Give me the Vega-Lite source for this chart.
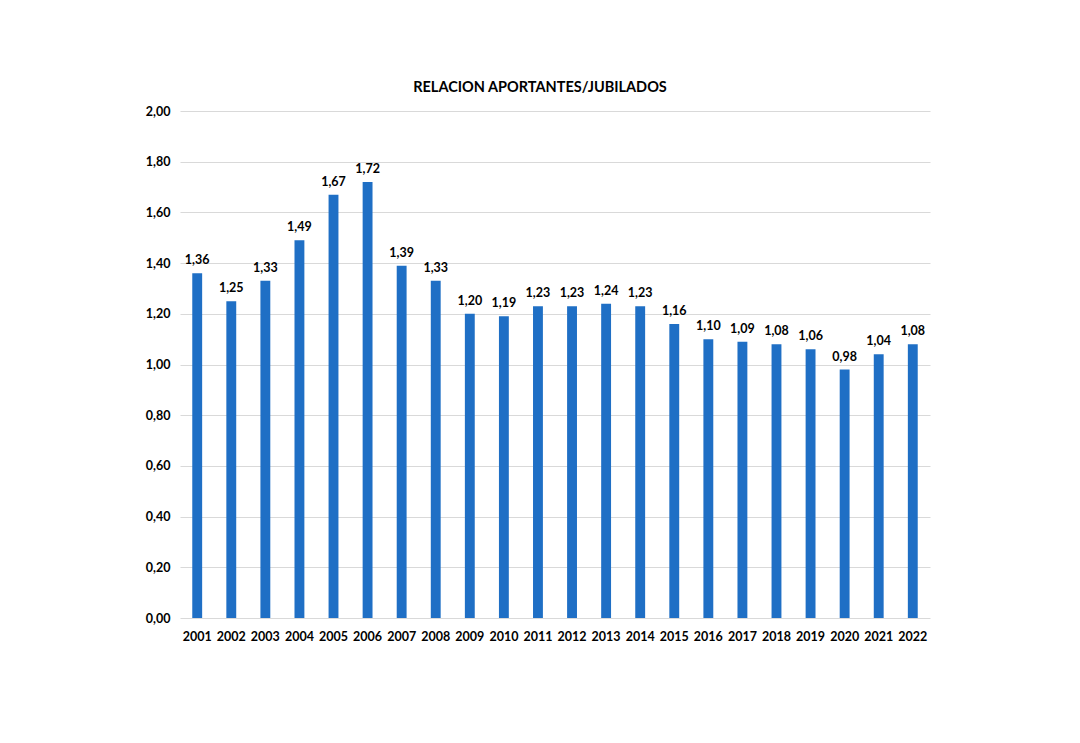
{
  "$schema": "https://vega.github.io/schema/vega-lite/v6.json",
  "autosize": {"type": "none"},
  "width": 750,
  "height": 507,
  "padding": {"left": 180, "top": 111, "right": 150, "bottom": 125},
  "background": "white",
  "config": {
    "locale": {"number": {"decimal": ",", "thousands": ".", "grouping": [3], "currency": ["$", ""]}},
    "view": {"stroke": null},
    "font": "Lato"
  },
  "title": {
    "text": "RELACION APORTANTES/JUBILADOS",
    "fontSize": 14.5,
    "fontWeight": "bold",
    "font": "Lato",
    "color": "#000000",
    "anchor": "middle",
    "dx": -15,
    "offset": 10
  },
  "data": {
    "values": [
      {"year": "2001", "value": 1.36},
      {"year": "2002", "value": 1.25},
      {"year": "2003", "value": 1.33},
      {"year": "2004", "value": 1.49},
      {"year": "2005", "value": 1.67},
      {"year": "2006", "value": 1.72},
      {"year": "2007", "value": 1.39},
      {"year": "2008", "value": 1.33},
      {"year": "2009", "value": 1.20},
      {"year": "2010", "value": 1.19},
      {"year": "2011", "value": 1.23},
      {"year": "2012", "value": 1.23},
      {"year": "2013", "value": 1.24},
      {"year": "2014", "value": 1.23},
      {"year": "2015", "value": 1.16},
      {"year": "2016", "value": 1.10},
      {"year": "2017", "value": 1.09},
      {"year": "2018", "value": 1.08},
      {"year": "2019", "value": 1.06},
      {"year": "2020", "value": 0.98},
      {"year": "2021", "value": 1.04},
      {"year": "2022", "value": 1.08}
    ]
  },
  "encoding": {
    "x": {
      "field": "year",
      "type": "ordinal",
      "title": null,
      "scale": {"paddingInner": 0.71, "paddingOuter": 0.36},
      "axis": {
        "labelAngle": 0,
        "labelFontWeight": "bold",
        "labelFontSize": 12.5,
        "labelColor": "#000000",
        "labelFont": "Lato",
        "ticks": false,
        "domain": false,
        "labelPadding": 12
      }
    },
    "y": {
      "field": "value",
      "type": "quantitative",
      "title": null,
      "scale": {"domain": [0, 2], "nice": false},
      "axis": {
        "values": [0, 0.2, 0.4, 0.6, 0.8, 1.0, 1.2, 1.4, 1.6, 1.8, 2.0],
        "format": ".2f",
        "labelFontWeight": "bold",
        "labelFontSize": 12.5,
        "labelColor": "#000000",
        "labelFont": "Lato",
        "ticks": false,
        "domain": false,
        "labelPadding": 10,
        "gridColor": "#d9d9d9",
        "gridWidth": 1
      }
    }
  },
  "layer": [
    {"mark": {"type": "bar", "color": "#1F6FC5"}},
    {
      "mark": {"type": "text", "baseline": "bottom", "dy": -6, "fontWeight": "bold", "fontSize": 12.5, "font": "Lato", "color": "#000000"},
      "encoding": {"text": {"field": "value", "type": "quantitative", "format": ".2f"}}
    }
  ]
}
